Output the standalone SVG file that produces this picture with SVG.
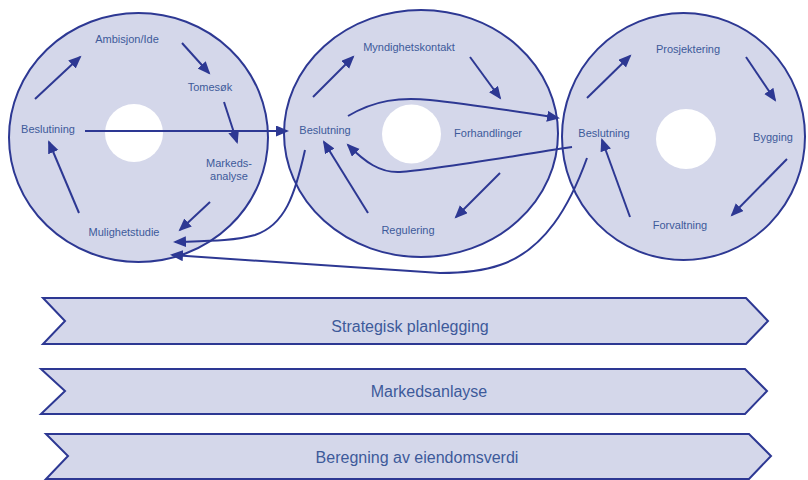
<svg xmlns="http://www.w3.org/2000/svg" width="808" height="480" viewBox="0 0 808 480">
<defs>
<marker id="ah" markerUnits="userSpaceOnUse" markerWidth="14" markerHeight="12" refX="11" refY="5.5" orient="auto">
<path d="M0,0 L13,5.5 L0,11 z" fill="#2d3893"/>
</marker>
<style>
.ring{fill:#d4d7ea;stroke:#2d3893;stroke-width:2}
.hole{fill:#ffffff;stroke:none}
.lbl{font-family:"Liberation Sans","Noto Sans",sans-serif;font-size:11px;fill:#3d5a9a;text-anchor:middle}
.big{font-family:"Liberation Sans","Noto Sans",sans-serif;font-size:16px;fill:#3d5a9a;text-anchor:middle}
.con{fill:none;stroke:#2d3893;stroke-width:2;marker-end:url(#ah)}
.band{fill:#d4d7ea;stroke:#2d3893;stroke-width:2;stroke-linejoin:miter}
</style>
</defs>
<rect width="808" height="480" fill="#ffffff"/>

<g id="cycle1">
<ellipse class="ring" cx="138.5" cy="137.5" rx="129.5" ry="124.5"/>
<circle class="hole" cx="134" cy="133" r="29"/>
<text class="lbl" x="127" y="43">Ambisjon/Ide</text>
<text class="lbl" x="210" y="91">Tomesøk</text>
<text class="lbl" x="48" y="133">Beslutining</text>
<text class="lbl" x="229" y="167">Markeds-</text>
<text class="lbl" x="229" y="180">analyse</text>
<text class="lbl" x="124" y="236">Mulighetstudie</text>
</g>

<g id="cycle2">
<ellipse class="ring" cx="421" cy="133.5" rx="137" ry="123.5"/>
<circle class="hole" cx="411.5" cy="134" r="29.5"/>
<text class="lbl" x="409" y="51">Myndighetskontakt</text>
<text class="lbl" x="325" y="134">Beslutning</text>
<text class="lbl" x="488" y="137">Forhandlinger</text>
<text class="lbl" x="408" y="234">Regulering</text>
</g>

<g id="cycle3">
<ellipse class="ring" cx="683.5" cy="136.5" rx="121.5" ry="123.5"/>
<circle class="hole" cx="686" cy="139" r="30"/>
<text class="lbl" x="688" y="53">Prosjektering</text>
<text class="lbl" x="604" y="137">Beslutning</text>
<text class="lbl" x="773" y="141">Bygging</text>
<text class="lbl" x="680" y="229">Forvaltning</text>
</g>

<g id="connectors">
<path class="con" d="M35,99 L80,57"/>
<path class="con" d="M182,43 L209,73"/>
<path class="con" d="M224,102 L237,142"/>
<path class="con" d="M210,202 L180,230"/>
<path class="con" d="M79,213 L49,142"/>
<path class="con" d="M85,131 L287,131"/>
<path class="con" d="M313,97 L353,57"/>
<path class="con" d="M470,57 L500,98"/>
<path class="con" d="M500,173 L456,217"/>
<path class="con" d="M368,213 L324,142"/>
<path class="con" d="M348,116 C375,100 400,97 430,100 S520,112 558,118"/>
<path class="con" d="M572,147 C500,158 430,170 400,172 C380,173 365,162 348,145"/>
<path class="con" d="M305,150 C295,195 285,225 255,235 C235,241 205,241 175,242"/>
<path class="con" d="M587,158 C570,205 545,250 500,265 C480,272 460,273 440,273 L172,255"/>
<path class="con" d="M587,98 L630,56"/>
<path class="con" d="M746,57 L775,100"/>
<path class="con" d="M787,159 L732,215"/>
<path class="con" d="M630,217 L602,140"/>
</g>

<g id="band1">
<path class="band" d="M43,298 L746,298 L768,321 L746,344 L43,344 L65,321 z"/>
<text class="big" x="410" y="332">Strategisk planlegging</text>
</g>
<g id="band2">
<path class="band" d="M41,369 L745,369 L767,391 L745,414 L41,414 L65,391 z"/>
<text class="big" x="429" y="397">Markedsanlayse</text>
</g>
<g id="band3">
<path class="band" d="M46,434 L749,434 L771,456 L749,479 L46,479 L68,456 z"/>
<text class="big" x="417" y="463">Beregning av eiendomsverdi</text>
</g>
</svg>
